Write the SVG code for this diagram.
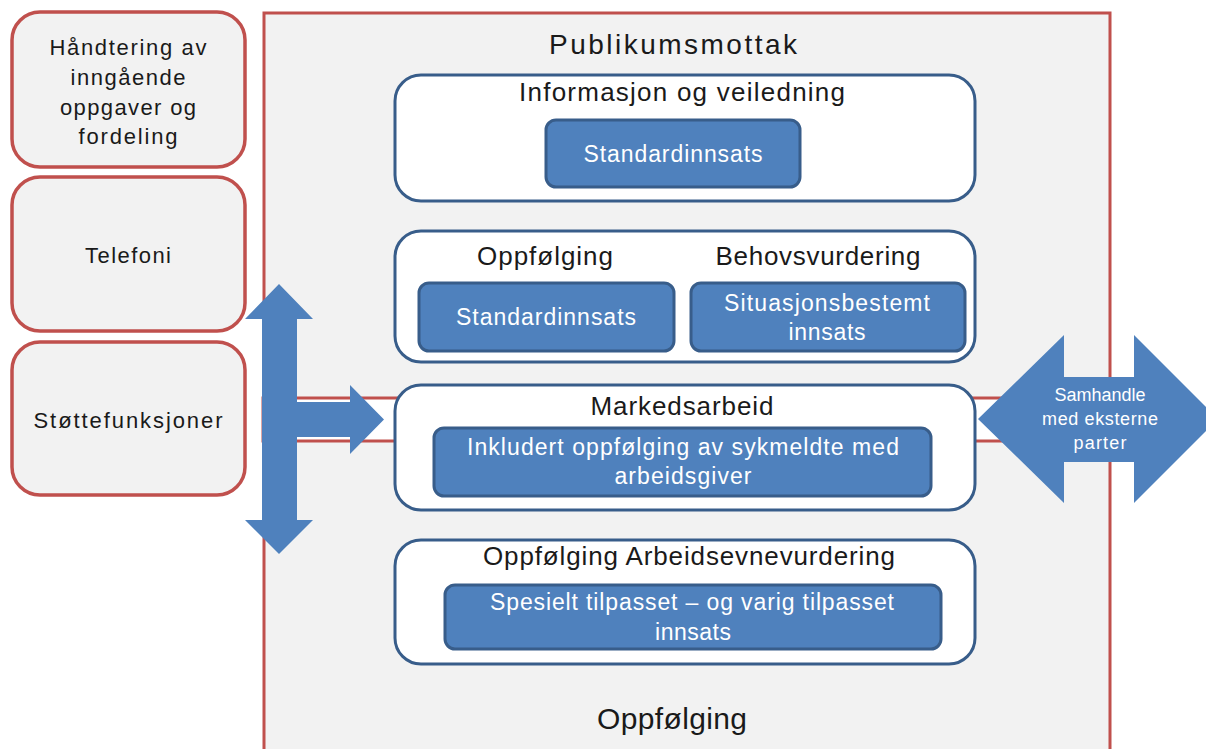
<svg xmlns="http://www.w3.org/2000/svg" width="1206" height="749" viewBox="0 0 1206 749">
<style>
text{font-family:"Liberation Sans",Arial,sans-serif;text-anchor:middle}
.side{fill:#f2f2f2;stroke:#c0504d;stroke-width:3.5}
.frame{fill:#f2f2f2;stroke:#c0504d;stroke-width:3}
.wbox{fill:#ffffff;stroke:#385d8a;stroke-width:3}
.bbox{fill:#4f81bd;stroke:#385d8a;stroke-width:3}
.dark{fill:#1a1a1a}
.lt{fill:#ffffff}
.arrow{fill:#4f81bd}
</style>
<rect width="1206" height="749" fill="#ffffff"/>
<g id="frame">
<rect class="frame" x="264" y="13" width="846" height="745"/>
<text class="dark" x="673" y="54" font-size="28" textLength="248" lengthAdjust="spacing">Publikumsmottak</text>
<text class="dark" x="672" y="729" font-size="30" textLength="150" lengthAdjust="spacing">Oppfølging</text>
</g>
<rect x="263" y="398" width="847" height="43" fill="#ffffff" stroke="#c0504d" stroke-width="3"/>
<g id="haandtering">
<rect class="side" x="12" y="12" width="233" height="155" rx="28"/>
<text class="dark" font-size="22"><tspan x="128" y="55" textLength="157" lengthAdjust="spacing">Håndtering av</tspan><tspan x="128" y="85" textLength="115" lengthAdjust="spacing">inngående</tspan><tspan x="128" y="115" textLength="136" lengthAdjust="spacing">oppgaver og</tspan><tspan x="128" y="144" textLength="99" lengthAdjust="spacing">fordeling</tspan></text>
</g>
<g id="telefoni">
<rect class="side" x="12" y="177" width="233" height="154" rx="28"/>
<text class="dark" x="128" y="263" font-size="22" textLength="86" lengthAdjust="spacing">Telefoni</text>
</g>
<g id="stotte">
<rect class="side" x="12" y="342" width="233" height="153" rx="28"/>
<text class="dark" x="128" y="428" font-size="22" textLength="189" lengthAdjust="spacing">Støttefunksjoner</text>
</g>
<g id="informasjon">
<rect class="wbox" x="395" y="75" width="580" height="126" rx="26"/>
<text class="dark" x="682" y="101" font-size="26" textLength="326" lengthAdjust="spacing">Informasjon og veiledning</text>
<rect class="bbox" x="546" y="120" width="254" height="67" rx="10"/>
<text class="lt" x="673" y="162" font-size="23" textLength="179" lengthAdjust="spacing">Standardinnsats</text>
</g>
<g id="oppfolging-behov">
<rect class="wbox" x="395" y="231" width="580" height="131" rx="26"/>
<text class="dark" x="545" y="265" font-size="26" textLength="136" lengthAdjust="spacing">Oppfølging</text>
<text class="dark" x="818" y="265" font-size="26" textLength="205" lengthAdjust="spacing">Behovsvurdering</text>
<rect class="bbox" x="419" y="283" width="255" height="68" rx="10"/>
<text class="lt" x="546" y="325" font-size="23" textLength="180" lengthAdjust="spacing">Standardinnsats</text>
<rect class="bbox" x="691" y="283" width="274" height="68" rx="10"/>
<text class="lt" font-size="23"><tspan x="827" y="311" textLength="206" lengthAdjust="spacing">Situasjonsbestemt</tspan><tspan x="827" y="340" textLength="77" lengthAdjust="spacing">innsats</tspan></text>
</g>
<g id="markedsarbeid">
<rect class="wbox" x="395" y="385" width="580" height="125" rx="26"/>
<text class="dark" x="682" y="415" font-size="26" textLength="183" lengthAdjust="spacing">Markedsarbeid</text>
<rect class="bbox" x="434" y="428" width="497" height="68" rx="10"/>
<text class="lt" font-size="23"><tspan x="683" y="455" textLength="432" lengthAdjust="spacing">Inkludert oppfølging av sykmeldte med</tspan><tspan x="683" y="484" textLength="137" lengthAdjust="spacing">arbeidsgiver</tspan></text>
</g>
<g id="arbeidsevne">
<rect class="wbox" x="395" y="540" width="580" height="124" rx="26"/>
<text class="dark" x="689" y="565" font-size="26" textLength="412" lengthAdjust="spacing">Oppfølging Arbeidsevnevurdering</text>
<rect class="bbox" x="445" y="585" width="496" height="64" rx="10"/>
<text class="lt" font-size="23"><tspan x="692" y="610" textLength="404" lengthAdjust="spacing">Spesielt tilpasset – og varig tilpasset</tspan><tspan x="693" y="640" textLength="76" lengthAdjust="spacing">innsats</tspan></text>
</g>
<g id="connectors">
<path class="arrow" d="M279,284 L313,319 L297,319 L297,402 L350,402 L350,385 L384,419.5 L350,454 L350,437 L297,437 L297,520 L313,520 L279,554 L245,520 L262,520 L262,319 L245,319 Z"/>
<g id="samhandle">
<path class="arrow" d="M978,419 L1064,335 L1064,377 L1134,377 L1134,335 L1206,407 L1206,431 L1134,503 L1134,462 L1064,462 L1064,503 Z"/>
<text class="lt" font-size="18"><tspan x="1100" y="401" textLength="91" lengthAdjust="spacing">Samhandle</tspan><tspan x="1100" y="425" textLength="116" lengthAdjust="spacing">med eksterne</tspan><tspan x="1100" y="449" textLength="53" lengthAdjust="spacing">parter</tspan></text>
</g>
</g>
</svg>
